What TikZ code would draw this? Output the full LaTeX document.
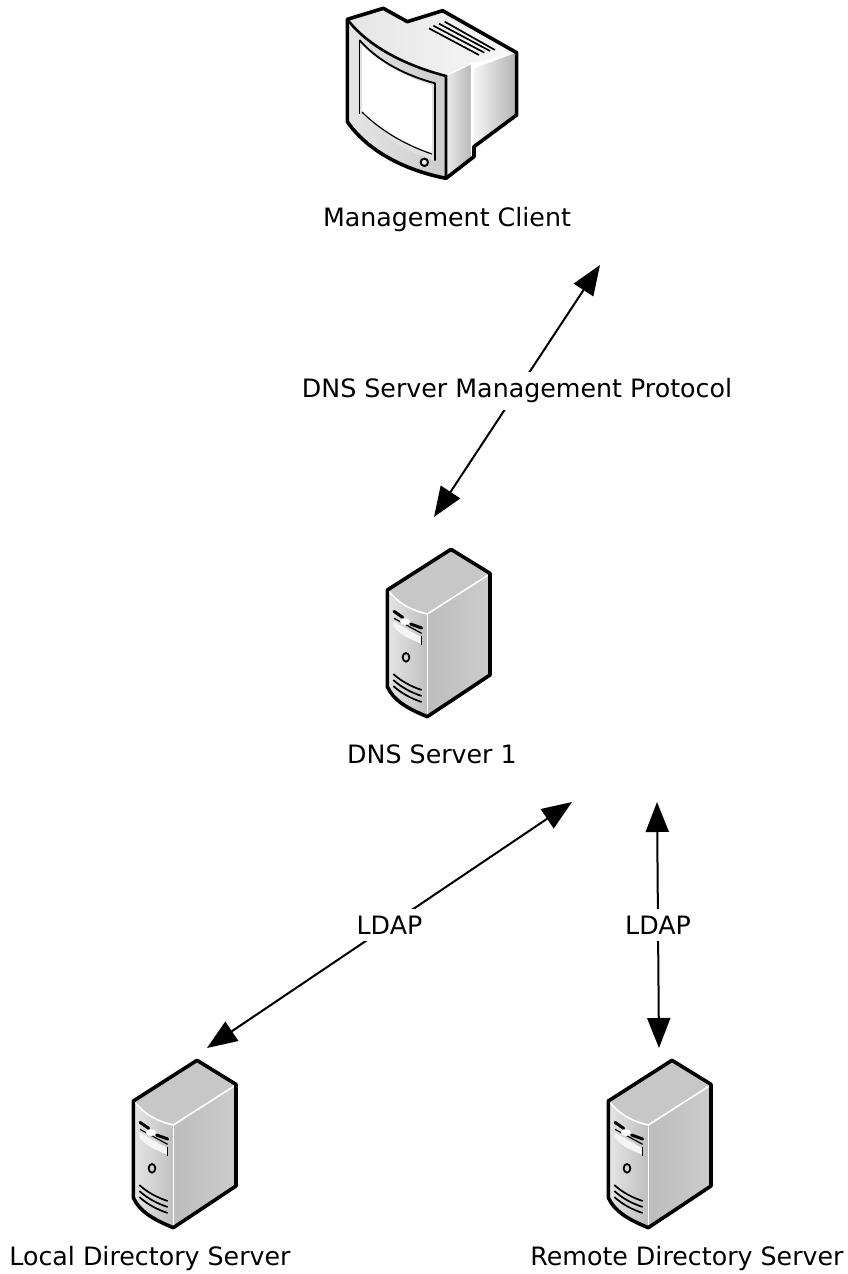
\documentclass[tikz,border=0pt]{standalone}
\usepackage{fontspec}
\setmainfont{DejaVu Sans}
\usetikzlibrary{arrows.meta}
\tikzset{
  lab/.style={font=\fontsize{25.3}{29}\selectfont,text=black,inner sep=0pt,anchor=center},
  linklab/.style={lab,fill=white,inner xsep=3pt,inner ysep=7pt},
  link/.style={draw=black,line width=2pt,{Triangle[length=30pt,width=23pt]}-{Triangle[length=30pt,width=23pt]}},
  ol/.style={draw=black,line width=3.6pt,line join=round,line cap=round},
  wl/.style={draw=white,line width=1.6pt,line join=round},
  serverpic/.pic={
    \begin{scope}[x=0.3333pt,y=-0.3333pt]
      \path[left color=white!90!black,right color=white!75!black]
        (52,150) .. controls (80,185) and (120,210) .. (172,222) -- (172,528)
        .. controls (110,505) and (70,480) .. (52,440) -- cycle;
      \path[fill=white!78!black] (52,150) -- (243,28) -- (360,100) -- (172,222) .. controls (120,210) and (80,185) .. (52,150) -- cycle;
      \path[left color=white!74!black,right color=white!80!black] (172,222) -- (360,100) -- (360,405) -- (172,528) -- cycle;
      \draw[wl] (56,153) .. controls (84,188) and (120,210) .. (172,222) -- (355,105);
      \draw[wl] (172,222) -- (172,525);
      \fill[white!96!black] (70,245) -- (155,292) -- (155,312) -- (110,292) .. controls (90,280) and (76,268) .. (70,258) -- cycle;
      \draw[draw=black,line width=3pt,line cap=round] (72,214) -- (98,232);
      \draw[draw=black,line width=3pt,line cap=round] (122,252) -- (155,264);
      \draw[draw=black,line width=1.2pt] (72,235) -- (155,280);
      \draw[draw=black,line width=1.6pt] (155,288) -- (155,314);
      \fill[white] (105,245) ellipse (15 and 10);
      \draw[draw=black,line width=1.8pt] (108,352) ellipse (10 and 13);
      \draw[draw=black,line width=1.7pt] (70,402) .. controls (95,425) and (125,440) .. (155,450);
      \draw[draw=black,line width=1.7pt] (70,420) .. controls (95,443) and (125,458) .. (155,468);
      \draw[draw=black,line width=1.7pt] (70,438) .. controls (95,461) and (125,476) .. (155,486);
      \draw[ol] (52,150) -- (243,28) -- (360,100) -- (360,405) -- (172,530)
        .. controls (110,505) and (70,480) .. (52,440) -- cycle;
    \end{scope}
  },
  monitorpic/.pic={
    \begin{scope}[x=0.3333pt,y=-0.3333pt]
      \path[left color=white!90!black,right color=white!97!black] (52,58) -- (160,25) -- (232,65) -- (338,32) -- (560,158) -- (425,190) -- (348,228)
        .. controls (220,195) and (110,135) .. (52,58) -- cycle;
      \path[left color=white!90!black,right color=white!80!black]
        (52,58) .. controls (110,135) and (220,195) .. (348,228) -- (348,535)
        .. controls (220,510) and (110,450) .. (52,365) -- cycle;
      \path[left color=white!92!black,right color=white!72!black] (348,228) -- (425,190) -- (425,470) -- (348,535) -- cycle;
      \path[left color=white!96!black,right color=white!70!black] (432,205) -- (560,158) -- (560,345) -- (432,440) -- cycle;
      \draw[draw=white,line width=1.4pt] (350,226) -- (425,190) -- (425,470);
      \path[fill=white!88!black] (88,120) .. controls (150,190) and (235,228) .. (315,250) -- (315,482)
        .. controls (225,455) and (140,400) .. (88,342) -- cycle;
      \path[fill=white] (96,132) .. controls (155,195) and (235,235) .. (306,256) -- (306,462)
        .. controls (225,435) and (150,390) .. (96,336) -- cycle;
      \draw[draw=black,line width=1.8pt,line join=round] (88,120) .. controls (150,190) and (235,228) .. (315,250) -- (315,482);
      \draw[draw=black,line width=1.2pt] (96,336) .. controls (150,390) and (225,435) .. (306,462);
      \draw[draw=black,line width=1.2pt] (88,120) -- (88,342);
      \draw[draw=black,line width=2pt,fill=white!95!black] (283,487) circle (11);
      \draw[draw=black,line width=1.7pt] (297,85) -- (447,165);
      \draw[draw=black,line width=1.7pt] (310,77) -- (463,158);
      \draw[draw=black,line width=1.7pt] (327,71) -- (480,153);
      \draw[draw=black,line width=1.7pt] (344,65) -- (495,150);
      \draw[ol] (52,58) -- (160,25) -- (232,65) -- (338,32) -- (560,158) -- (560,345) -- (432,440) -- (432,470) -- (348,535)
        .. controls (220,510) and (110,450) .. (52,365) -- cycle;
      \draw[draw=black,line width=2.6pt] (52,58) .. controls (110,135) and (220,195) .. (348,228) -- (348,535);
    \end{scope}
  }
}
\begin{document}
\begin{tikzpicture}[x=1pt,y=-1pt]
  \useasboundingbox (0,0) rectangle (848,1274);
  \pic at (330,0) {monitorpic};
  \pic at (370,540) {serverpic};
  \pic at (116,1051) {serverpic};
  \pic at (591,1051) {serverpic};

  \node[lab] (client) at (447,220) {Management Client};
  \node[lab] (dns) at (432,754) {DNS Server 1};
  \node[lab] (local) at (150,1259) {Local Directory Server};
  \node[lab] (remote) at (687,1259) {Remote Directory Server};

  \coordinate (clientend) at (600,265);
  \coordinate (dnsend) at (434,517);
  \coordinate (dnsleft) at (572,802);
  \coordinate (localend) at (207,1048);
  \coordinate (dnsright) at (657,802);
  \coordinate (remoteend) at (659,1048);

  \draw[link] (dnsend) -- node[linklab] (proto) {DNS Server Management Protocol} (clientend);
  \draw[link] (localend) -- node[linklab] (ldapa) {LDAP} (dnsleft);
  \draw[link] (remoteend) -- node[linklab] (ldapb) {LDAP} (dnsright);
\end{tikzpicture}
\end{document}
